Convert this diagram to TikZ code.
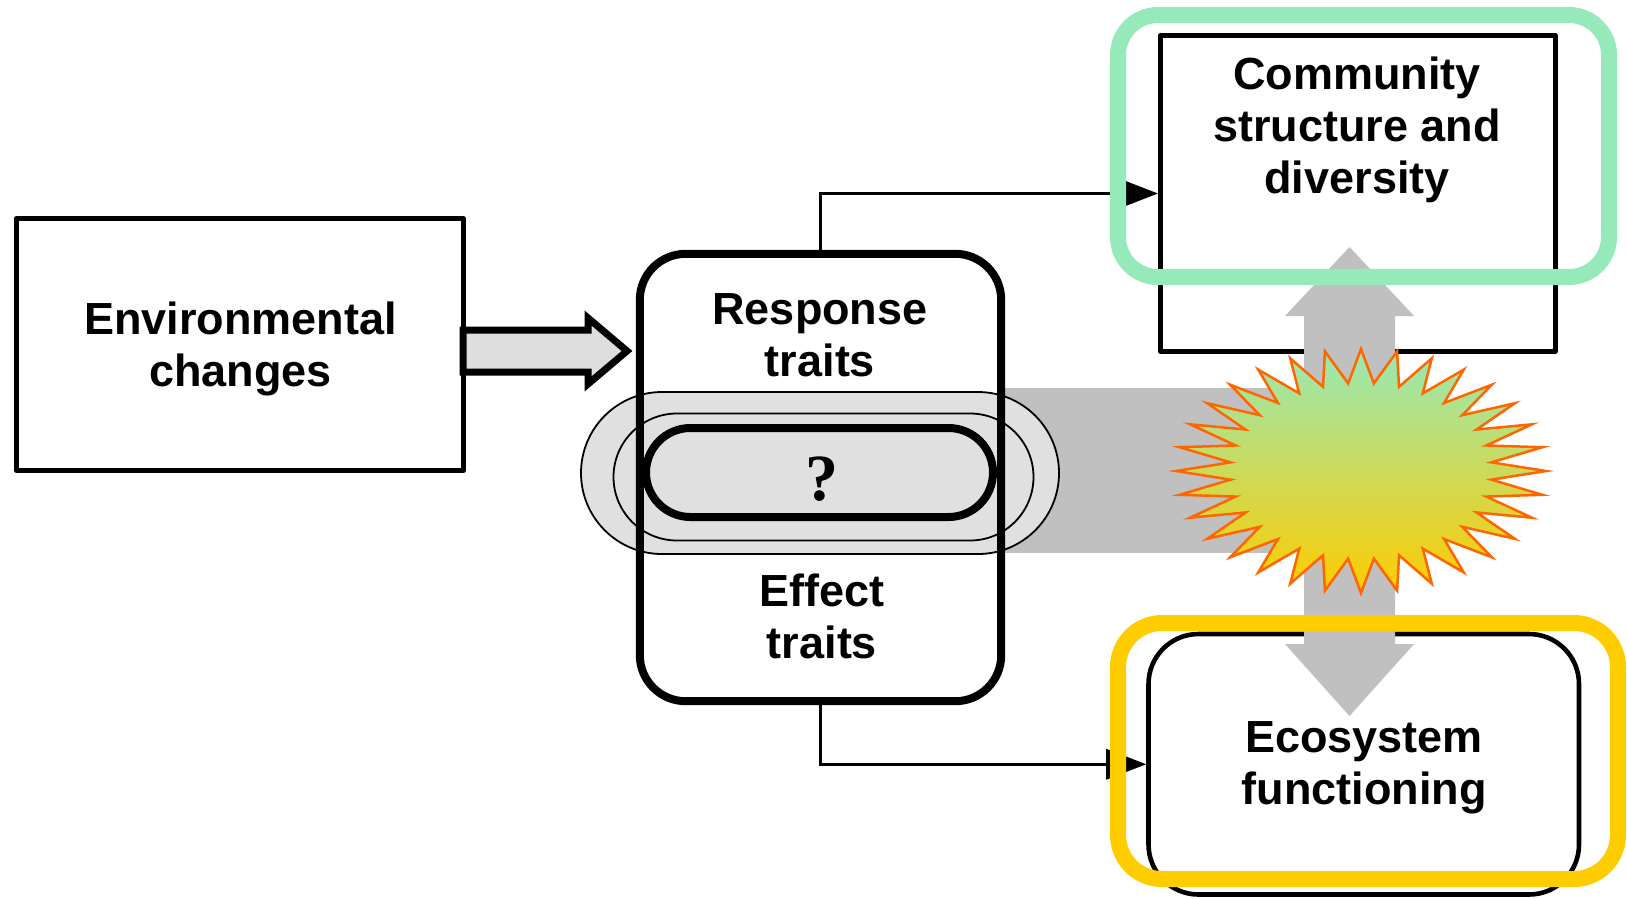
\documentclass[tikz,border=0pt]{standalone}
\usepackage{fontspec}
\setmainfont{Liberation Sans}
\newfontfamily\qfont{Liberation Serif}
\usetikzlibrary{arrows.meta,calc}
\definecolor{mint}{HTML}{96EAB9}
\definecolor{gold}{HTML}{FFCC00}
\definecolor{bandgray}{HTML}{C0C0C0}
\definecolor{stadgray}{HTML}{E0E0E0}
\definecolor{arrowgray}{HTML}{DEDEDE}
\definecolor{burstline}{HTML}{FF6600}
\definecolor{burstgreen}{HTML}{98E8B6}
\begin{document}
\begin{tikzpicture}[x=1pt,y=-1pt,
  box/.style={draw=black, fill=white, inner sep=0pt, line join=round},
  lbl/.style={font=\fontsize{45}{52}\selectfont\bfseries, align=center, inner sep=0pt},
  stad/.style={draw=black, fill=stadgray, line width=1.8pt, inner sep=0pt},
  conn/.style={line width=3.5pt, -{Triangle[length=40pt,width=30pt]}},
  frame/.style={line width=16pt}
]
\useasboundingbox (0,0) rectangle (1627,898);

% left box
\node[box, line width=5.3pt, minimum width=447pt, minimum height=251.6pt] (env) at (239.7,344.5) {};
\node[lbl] (envt) at (240.5,348.6) {Environmental\\changes};

% right boxes
\node[box, line width=5pt, minimum width=394.5pt, minimum height=316pt] (com) at (1357.75,193.5) {};
\node[box, line width=4.6pt, rounded corners=50pt, minimum width=430.5pt, minimum height=260.5pt] (eco) at (1363.75,764.25) {};

% connectors
\draw[conn] (820.5,254) |- (com.west);
\draw[conn] (820.5,701) |- (eco.west);

% grey band and double arrow
\fill[bandgray] (1000,388) rectangle (1290,553);
\fill[bandgray] (1349.5,247) -- (1414,316) -- (1395,316) -- (1395,644) -- (1414,644)
  -- (1349.5,716) -- (1285,644) -- (1304,644) -- (1304,316) -- (1285,316) -- cycle;

% starburst
\shadedraw[top color=burstgreen, bottom color=gold, draw=burstline, line width=2.5pt, line join=miter]
  plot[variable=\k, samples at={0,...,63}]
  ({1361+(131+54*(1-mod(\k,2)))*cos(\k*5.625)}, {471+(88+34*(1-mod(\k,2)))*sin(\k*5.625)}) -- cycle;

% trait box (fill first)
\node[fill=white, inner sep=0pt, rounded corners=46pt, minimum width=361pt, minimum height=447pt] (traits) at (820.5,477.5) {};
\node[stad, minimum width=478pt, minimum height=162pt, rounded corners=81pt] (outer) at (820,473) {};
\node[stad, minimum width=420pt, minimum height=127pt, rounded corners=63.5pt] (middle) at (823.5,477) {};
\draw[line width=8pt, rounded corners=46pt] (traits.north west) rectangle (traits.south east);
\node[draw=black, fill=stadgray, line width=8pt, inner sep=0pt, minimum width=347pt, minimum height=89pt, rounded corners=44.5pt] (q) at (819.5,472.5) {};
\node[font=\qfont\bfseries\fontsize{66}{70}\selectfont, anchor=base, inner sep=0pt] (qm) at (822,500) {?};

\node[lbl] (resp) at (820,335) {Response\\traits};
\node[lbl] (eff) at (822,616) {Effect\\traits};

% block arrow
\draw[line width=7pt, fill=arrowgray, line join=miter] (463,330) -- (588,330) -- (588,318) -- (627,351)
  -- (588,384) -- (588,372) -- (463,372) -- cycle;

% text of right boxes
\node[lbl] (comt) at (1357,129.6) {Community\\structure and\\diversity};
\node[lbl] (ecot) at (1364,767.6) {Ecosystem\\functioning};

% highlight frames
\draw[frame, mint, rounded corners=40pt] (1118,15) rectangle (1609,277);
\draw[frame, gold, rounded corners=44pt] (1118,623) rectangle (1618,879);
\end{tikzpicture}
\end{document}
